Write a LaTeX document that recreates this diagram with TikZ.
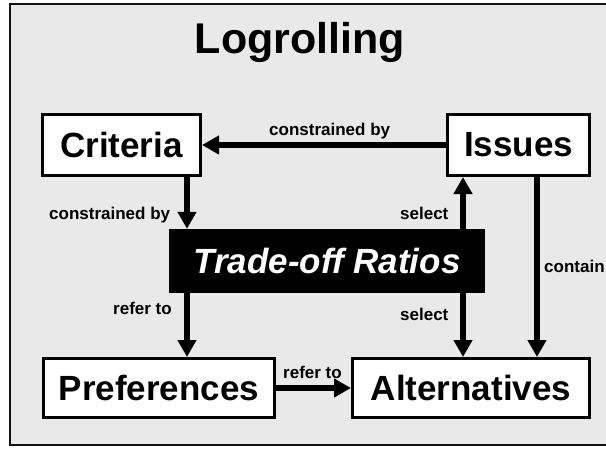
\documentclass[tikz,border=0pt]{standalone}
\usepackage{fontspec}
\setmainfont{Liberation Sans}
\usetikzlibrary{arrows.meta}
\definecolor{bgc}{HTML}{E9E9E9}
\definecolor{framec}{HTML}{111111}
\begin{document}
\begin{tikzpicture}[x=1pt,y=-1pt,
  box/.style={draw=black, line width=3pt, fill=white, inner sep=0pt,
    font=\fontsize{35}{40}\selectfont\bfseries},
  darkbox/.style={fill=black, text=white, inner sep=0pt,
    font=\fontsize{35}{40}\selectfont\bfseries\itshape},
  arr/.style={line width=5.5pt, -{Triangle[length=17pt,width=18pt]}},
  lbl/.style={font=\fontsize{17}{20}\selectfont\bfseries, anchor=base west, inner sep=0pt}]
\useasboundingbox (0,0) rectangle (606,448);
\path[fill=bgc, draw=framec, line width=2pt] (10,4) rectangle (630,445);
\node[font=\fontsize{43}{50}\selectfont\bfseries, anchor=base, inner sep=0pt] (title) at (300,53) {Logrolling};
\node[box, minimum width=158pt, minimum height=61pt] (crit) at (121.5,145) {Criteria};
\node[box, minimum width=142pt, minimum height=61pt] (iss) at (518.5,145) {Issues};
\node[darkbox, minimum width=316pt, minimum height=64pt] (trade) at (327,261) {Trade-off Ratios};
\node[box, minimum width=231pt, minimum height=59pt] (pref) at (159,388) {Preferences};
\node[box, minimum width=237pt, minimum height=59pt] (alt) at (471,388) {Alternatives};
\coordinate (xa) at (187,0);
\coordinate (xb) at (463,0);
\coordinate (xc) at (537,0);
\draw[arr] (iss.west) -- (crit.east);
\draw[arr] (crit.south -| xa) -- (trade.north -| xa);
\draw[arr] (trade.north -| xb) -- (iss.south -| xb);
\draw[arr] (iss.south -| xc) -- (alt.north -| xc);
\draw[arr] (trade.south -| xa) -- (pref.north -| xa);
\draw[arr] (trade.south -| xb) -- (alt.north -| xb);
\draw[arr] (pref.east) -- (alt.west);
\node[lbl] (l1) at (269,135) {constrained by};
\node[lbl] (l2) at (49,219) {constrained by};
\node[lbl] (l3) at (400,219) {select};
\node[lbl] (l4) at (544,272) {contain};
\node[lbl] (l5) at (113,314) {refer to};
\node[lbl] (l6) at (400,320) {select};
\node[lbl] (l7) at (283,378) {refer to};
\end{tikzpicture}
\end{document}
